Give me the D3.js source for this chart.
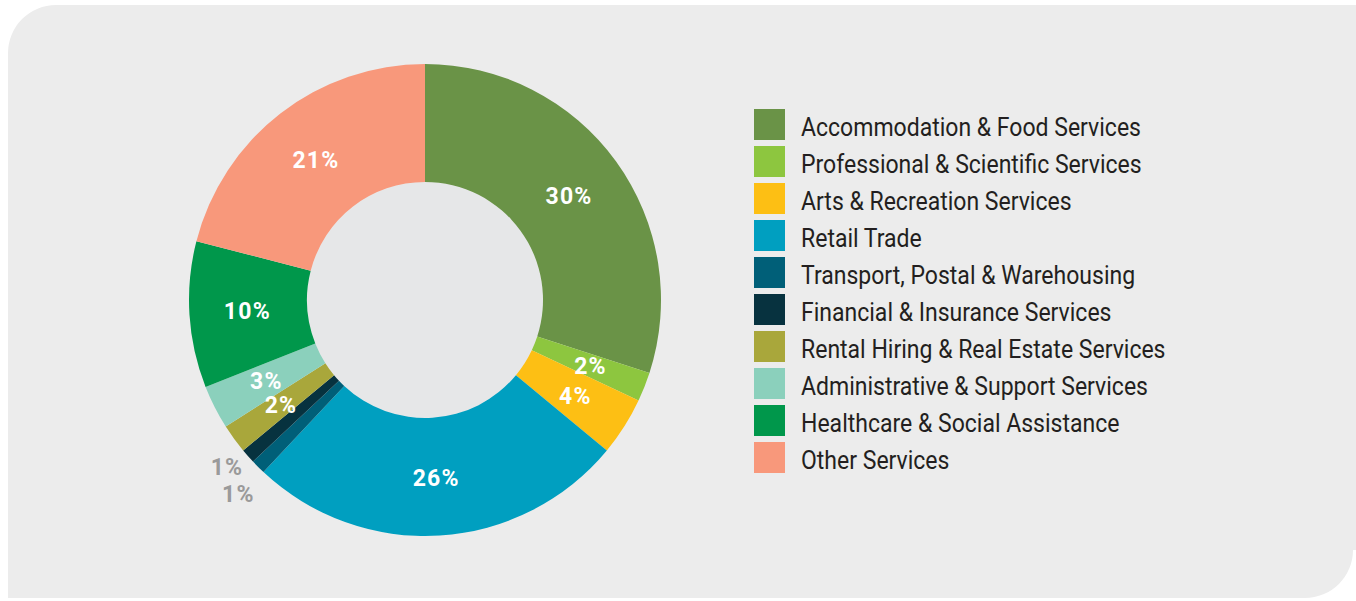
<!DOCTYPE html>
<html>
<head>
<meta charset="utf-8">
<script src="https://cdn.jsdelivr.net/npm/d3@7"></script>
<style>
  html, body { margin: 0; padding: 0; background: #ffffff; }
  svg { display: block; }
</style>
</head>
<body>
<div id="canvas"></div>
<script>
// chart data
const categories = [
  "Accommodation & Food Services",
  "Professional & Scientific Services",
  "Arts & Recreation Services",
  "Retail Trade",
  "Transport, Postal & Warehousing",
  "Financial & Insurance Services",
  "Rental Hiring & Real Estate Services",
  "Administrative & Support Services",
  "Healthcare & Social Assistance",
  "Other Services"
];
const shares = [30, 2, 4, 26, 1, 1, 2, 3, 10, 21];
const colors = ["#6a9347", "#8dc63f", "#fdbf14", "#009fc0", "#005f78",
                "#07323f", "#a9a73b", "#8bd0bc", "#00974b", "#f8987b"];
// small slices get their label outside the ring, in grey
const outside = [false, false, false, false, true, true, false, false, false, false];

const W = 1356, H = 601;
const cx = 425, cy = 300;
const rOuter = 236, rInner = 118;

const svg = d3.select("#canvas")
  .append("svg")
    .attr("width", W)
    .attr("height", H);

// panel with two rounded corners (top-left, bottom-right)
const px0 = 8, py0 = 5, px1 = 1353, py1 = 598, rc = 48;
const panel = d3.path();
panel.moveTo(px0, py0 + rc);
panel.arcTo(px0, py0, px0 + rc, py0, rc);
panel.lineTo(W, py0);
panel.lineTo(W, py1 - rc);
panel.lineTo(px1, py1 - rc);
panel.arcTo(px1, py1, px1 - rc, py1, rc);
panel.lineTo(px0, py1);
panel.closePath();
svg.append("path")
  .attr("d", panel.toString())
  .attr("fill", "#ececec");

const data = categories.map(function(c, i) {
  return {name: c, value: shares[i], color: colors[i], out: outside[i]};
});

const pie = d3.pie()
  .value(function(d) { return d.value; })
  .sort(null);

const arc = d3.arc()
  .innerRadius(rInner)
  .outerRadius(rOuter);

const inLabelArc = d3.arc()
  .innerRadius(178)
  .outerRadius(178);

const outLabelArc = d3.arc()
  .innerRadius(264)
  .outerRadius(264);

const g = svg.append("g")
  .attr("transform", "translate(" + cx + "," + cy + ")");

g.append("circle")
  .attr("r", rInner)
  .attr("fill", "#e6e7e8");

const arcs = pie(data);

g.selectAll("path.slice")
  .data(arcs)
  .enter()
  .append("path")
    .attr("class", "slice")
    .attr("d", arc)
    .attr("fill", function(d) { return d.data.color; });

// label positions; outside labels are pushed apart vertically so they don't collide
const pos = arcs.map(function(d) {
  return d.data.out ? outLabelArc.centroid(d) : inLabelArc.centroid(d);
});
const outIdx = arcs.map(function(d, i) { return i; })
  .filter(function(i) { return arcs[i].data.out; })
  .sort(function(a, b) { return pos[a][1] - pos[b][1]; });
const minGap = 27;
for (let k = 1; k < outIdx.length; k++) {
  const a = pos[outIdx[k - 1]], b = pos[outIdx[k]];
  const gap = b[1] - a[1];
  if (gap < minGap) {
    const shift = (minGap - gap) / 2;
    a[1] -= shift;
    b[1] += shift;
  }
}

g.selectAll("text.pct")
  .data(arcs)
  .enter()
  .append("text")
    .attr("class", "pct")
    .attr("transform", function(d, i) {
      return "translate(" + pos[i][0] + "," + pos[i][1] + ")";
    })
    .attr("dy", "0.36em")
    .attr("text-anchor", "middle")
    .attr("font-family", "'Roboto', sans-serif")
    .attr("font-weight", 700)
    .attr("font-size", 23)
    .attr("letter-spacing", 1.2)
    .attr("fill", function(d) { return d.data.out ? "#9a9a9a" : "#ffffff"; })
    .text(function(d) { return d.data.value + "%"; });

// legend
const legend = svg.append("g")
  .attr("transform", "translate(754,109)");

const row = d3.scaleBand()
  .domain(categories)
  .range([0, 37 * categories.length]);

const items = legend.selectAll("g.item")
  .data(data)
  .enter()
  .append("g")
    .attr("class", "item")
    .attr("transform", function(d) { return "translate(0," + row(d.name) + ")"; });

items.append("rect")
  .attr("width", 31)
  .attr("height", 31)
  .attr("fill", function(d) { return d.color; });

// the original face is narrow, so squeeze Roboto horizontally
items.append("text")
  .attr("transform", "translate(47,27) scale(0.885,1)")
  .attr("font-family", "'Roboto', sans-serif")
  .attr("font-size", 26)
  .attr("fill", "#231f20")
  .text(function(d) { return d.name; });
</script>
</body>
</html>
